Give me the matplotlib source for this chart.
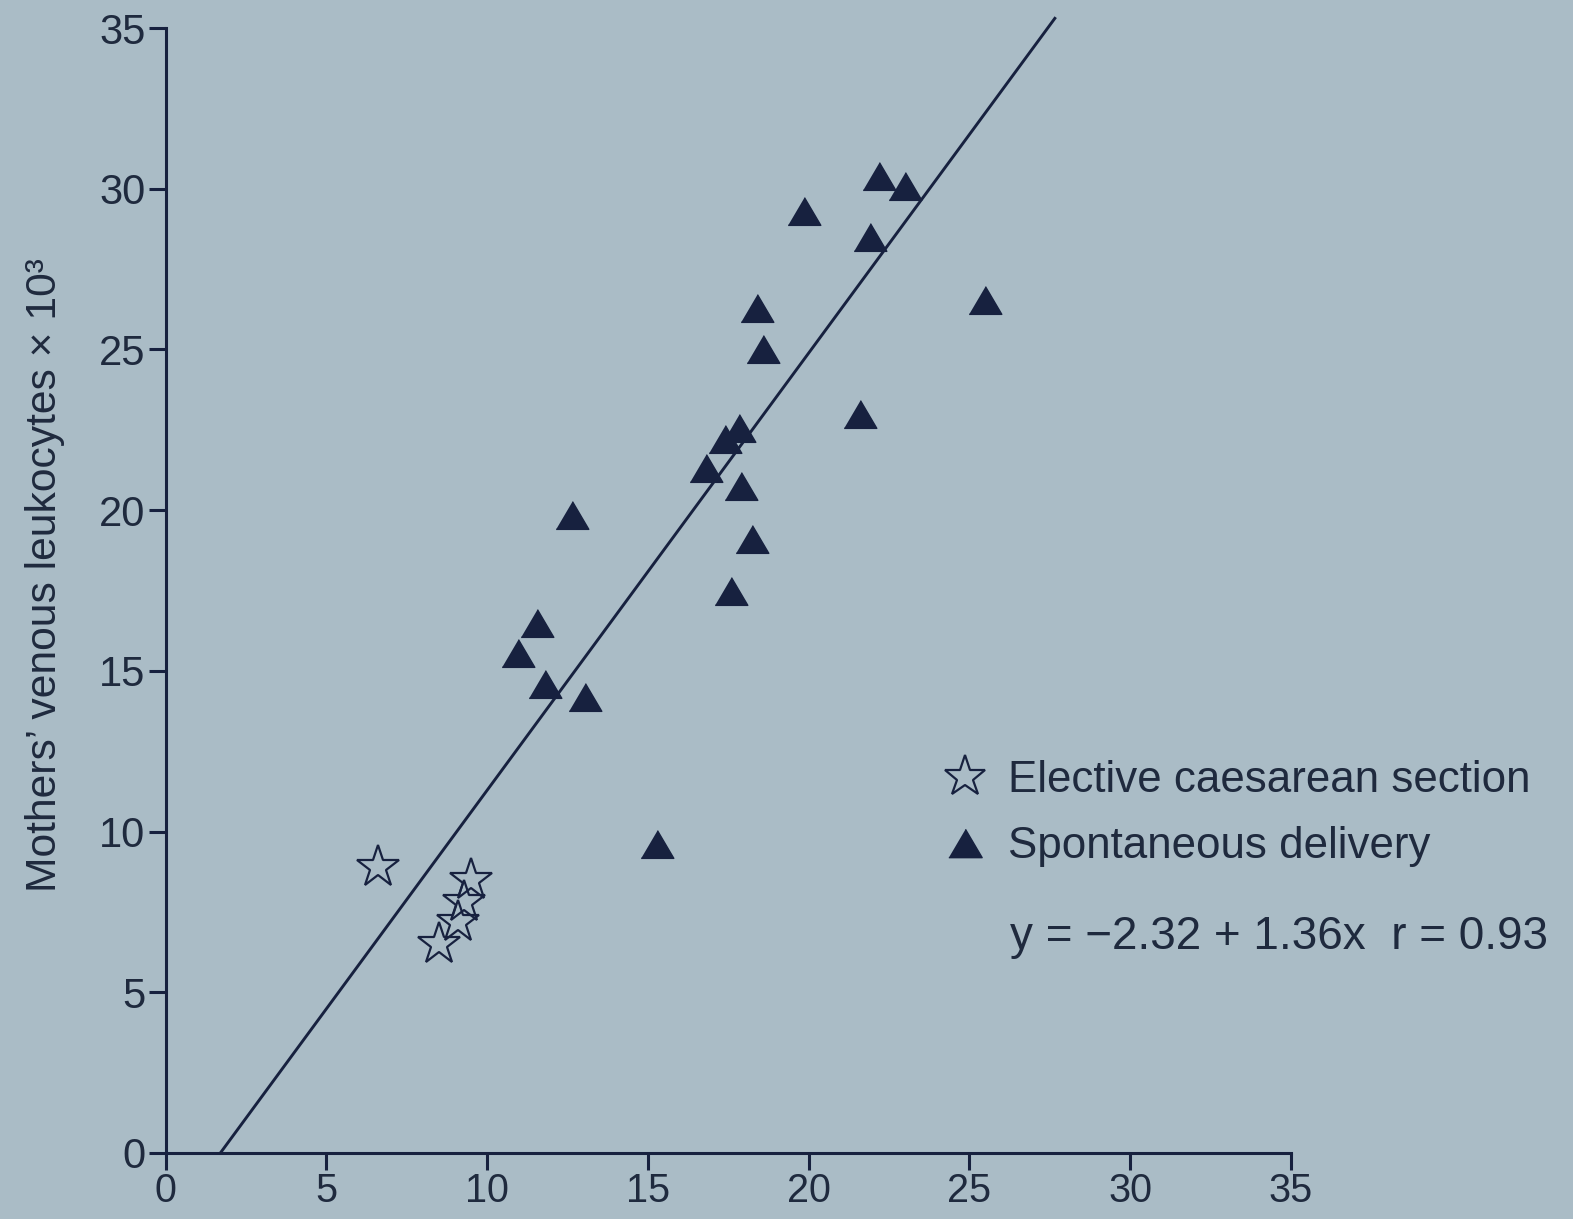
import matplotlib
matplotlib.use("Agg")
import matplotlib.pyplot as plt
from matplotlib.lines import Line2D

plt.rcParams['font.family'] = ['Liberation Sans', 'DejaVu Sans']

# Elective caesarean section
caesar_x = [6.6, 9.5, 9.3, 9.1, 8.5]
caesar_y = [8.9, 8.5, 7.8, 7.2, 6.5]

# Spontaneous delivery
spont_x = [22.2, 23.0, 19.85, 21.9, 25.5, 18.4, 18.6, 21.6, 17.85, 17.4,
           16.8, 17.9, 18.25, 17.6, 12.65, 11.55, 10.95, 11.8, 13.05, 15.3]
spont_y = [30.4, 30.1, 29.3, 28.5, 26.55, 26.3, 25.0, 23.0, 22.55, 22.2,
           21.3, 20.75, 19.1, 17.5, 19.85, 16.5, 15.55, 14.6, 14.2, 9.6]

# Regression line  y = a + b x
fit_intercept = -2.32
fit_slope = 1.36
fit_r = 0.93

x_ticks = [0, 5, 10, 15, 20, 25, 30, 35]
y_ticks = [0, 5, 10, 15, 20, 25, 30, 35]

y_label = "Mothers\u2019 venous leukocytes \u00d7 10\u00b3"
legend_labels = ["Elective caesarean section", "Spontaneous delivery"]

BG = "#aabcc6"
NAVY = "#17213f"
TEXT = "#1f2a3e"

W, H = 1573, 1219
fig = plt.figure(figsize=(W / 100, H / 100), dpi=100)
fig.patch.set_facecolor(BG)

left, right = 165.5, 165.5 + 35 * 32.15
bottom, top = 1153.0, 28.0
ax = fig.add_axes([left / W, 1 - bottom / H, (right - left) / W, (bottom - top) / H])
ax.set_facecolor("none")

ax.set_xlim(0, 35)
ax.set_ylim(0, 35)

for side in ("top", "right"):
    ax.spines[side].set_visible(False)
for side in ("left", "bottom"):
    ax.spines[side].set_linewidth(2.2)
    ax.spines[side].set_color(NAVY)

ax.set_xticks(x_ticks)
ax.set_yticks(y_ticks)
ax.tick_params(direction="out", length=12.5, width=2.2, color=NAVY,
               labelsize=30, labelcolor=TEXT)
ax.tick_params(axis="x", pad=1.5, labelsize=28.5)
ax.tick_params(axis="y", pad=2)

# regression line, from y = 0 up to just past the top of the axis
y_end = 35.3
line_x = [-fit_intercept / fit_slope, (y_end - fit_intercept) / fit_slope]
line_y = [fit_intercept + fit_slope * v for v in line_x]
ax.plot(line_x, line_y, color=NAVY, lw=2.1, clip_on=False, zorder=2)

tri = [(-1, -0.85), (1, -0.85), (0, 0.85)]
ax.plot(spont_x, spont_y, ls="none", marker=tri, ms=23.5, mfc=NAVY,
        mec=NAVY, mew=1, zorder=3, clip_on=False)
ax.plot(caesar_x, caesar_y, ls="none", marker="*", ms=32, mfc="none",
        mec=NAVY, mew=1.6, zorder=3)

fig.text(45 / W, 1 - 575 / H, y_label, rotation=90, ha="center", va="center",
         fontsize=30.7, color=TEXT)

handles = [
    Line2D([], [], ls="none", marker="*", ms=31, mfc="none", mec=NAVY, mew=1.6),
    Line2D([], [], ls="none", marker=tri, ms=24, mfc=NAVY, mec=NAVY, mew=1),
]
leg = fig.legend(handles, legend_labels, loc="upper left",
                 bbox_to_anchor=(943.5 / W, 1 - 760 / H), frameon=False,
                 fontsize=31.6, handlelength=1.0, handletextpad=0.48,
                 borderpad=0, borderaxespad=0, labelspacing=0.58)
for t in leg.get_texts():
    t.set_color(TEXT)

eq = f"y = \u2212{abs(fit_intercept):.2f} + {fit_slope:.2f}x  r = {fit_r:.2f}"
fig.text(1010 / W, 1 - 937 / H, eq, ha="left", va="center", fontsize=33,
         color=TEXT)

fig.savefig("out.png", dpi=100, facecolor=BG)
